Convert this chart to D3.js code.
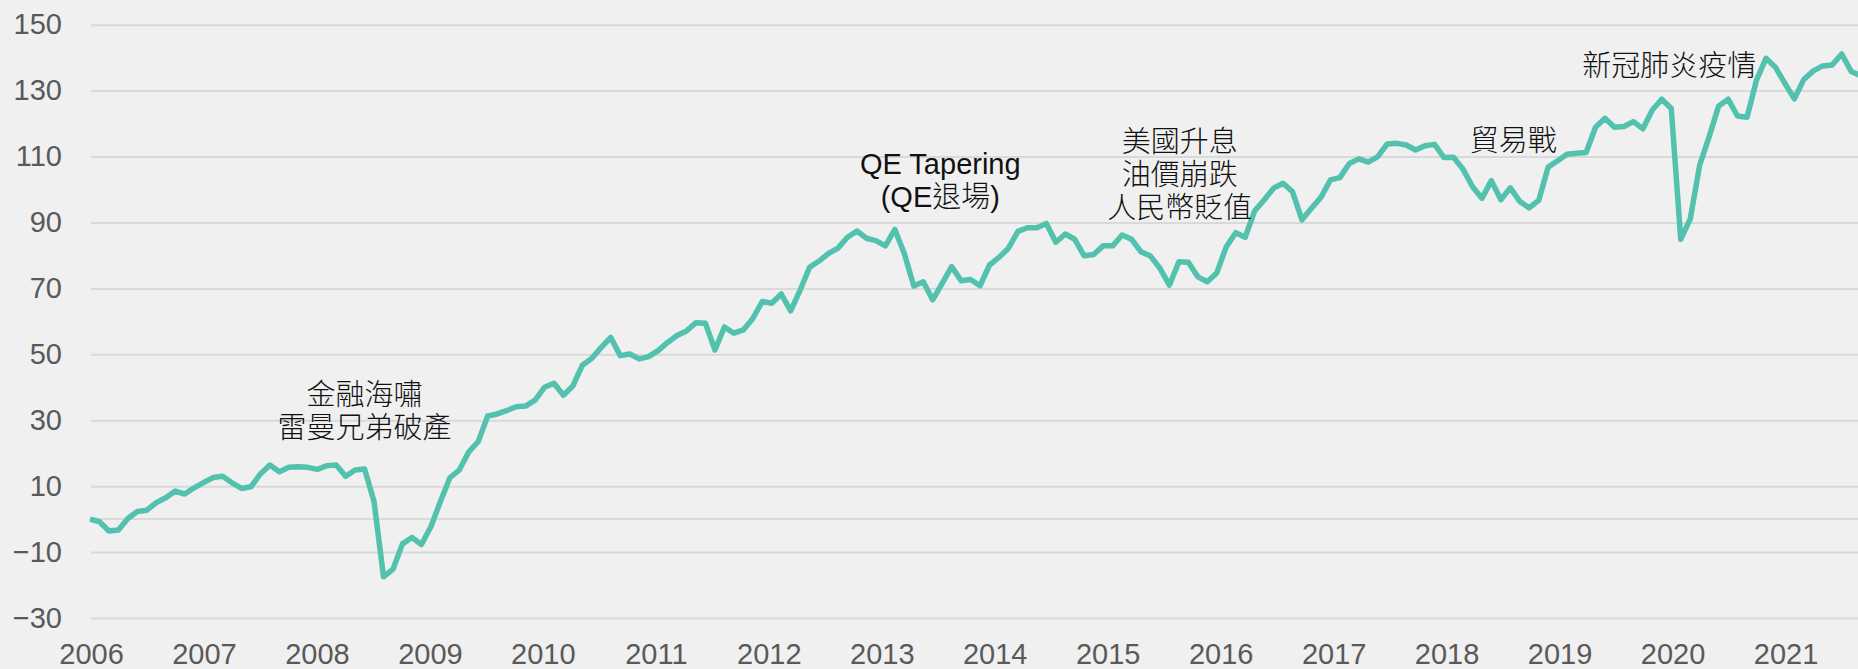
<!DOCTYPE html>
<html>
<head>
<meta charset="utf-8">
<script src="https://cdn.jsdelivr.net/npm/d3@7"></script>
<style>
  html, body { margin: 0; padding: 0; background: #f0f0f0; }
  svg { display: block; }
</style>
</head>
<body>
<div id="chart"></div>
<script>
// monthly index values, Jan 2006 = 0
const values = [
  0, -0.8, -3.6, -3.3, 0.2, 2.3, 2.7, 5.0, 6.5, 8.5, 7.6, 9.5,
  11.1, 12.6, 13.0, 11.0, 9.3, 9.8, 13.7, 16.4, 14.4, 15.7, 15.9, 15.7,
  15.1, 16.2, 16.4, 13.0, 14.9, 15.2, 5.3, -17.5, -15.2, -7.5, -5.6, -7.7,
  -2.3, 5.3, 12.5, 14.9, 20.4, 23.5, 31.3, 31.9, 32.9, 34.1, 34.3, 36.1,
  40.0, 41.2, 37.6, 40.4, 46.7, 48.8, 52.1, 55.1, 49.6, 50.1, 48.6, 49.3,
  51.1, 53.6, 55.7, 57.1, 59.6, 59.4, 51.3, 58.3, 56.4, 57.4, 60.9, 66.0,
  65.5, 68.3, 63.2, 69.5, 76.4, 78.3, 80.6, 82.2, 85.5, 87.4, 85.2, 84.5,
  82.9, 87.9, 80.6, 70.7, 72.0, 66.5, 71.5, 76.6, 72.3, 72.7, 70.8, 77.1,
  79.4, 82.2, 87.3, 88.4, 88.4, 89.7, 84.0, 86.5, 84.9, 79.9, 80.3, 82.9,
  82.9, 86.2, 84.9, 81.1, 79.8, 76.1, 71.0, 78.1, 77.9, 73.5, 72.0, 74.7,
  82.6, 86.9, 85.5, 93.5, 96.8, 100.4, 101.9, 99.3, 90.8, 94.3, 97.6, 102.9,
  103.6, 107.9, 109.3, 108.3, 110.0, 113.8, 114.0, 113.5, 112.0, 113.3, 113.7, 109.7,
  109.8, 106.2, 100.9, 97.3, 102.7, 96.9, 100.5, 96.4, 94.4, 96.7, 106.8, 108.7,
  110.7, 111.0, 111.2, 118.9, 121.6, 118.9, 119.1, 120.6, 118.4, 124.1, 127.4, 124.6,
  84.9, 91.0, 107.4, 116.0, 125.3, 127.4, 122.3, 121.9, 133.2, 139.8, 137.1, 132.2,
  127.5, 133.4, 136.0, 137.5, 137.8, 141.1, 135.8, 134.5
]

const years = d3.range(2006, 2022)
const yTicks = d3.range(-30, 151, 20)

// event notes, anchored at (month index, value) of first line baseline
const notes = [
  { lines: ['金融海嘯', '雷曼兄弟破產'], idx: 29, val: 34.6 },
  { lines: ['QE Tapering', '(QE退場)'], idx: 89.8, val: 104.7 },
  { lines: ['美國升息', '油價崩跌', '人民幣貶值'], idx: 115.1, val: 111.4 },
  { lines: ['貿易戰'], idx: 150.3, val: 111.7 },
  { lines: ['新冠肺炎疫情'], idx: 166.8, val: 134.4 },
]

const W = 1858, H = 669
const margin = { top: 24.7, right: 0, bottom: 51, left: 91 }
const lineColor = '#52c1ad'
const font = '"Liberation Sans", Arial, "Noto Sans CJK TC", sans-serif'

const svg = d3.select('#chart')
  .append('svg')
  .attr('width', W)
  .attr('height', H)
  .style('background', '#f0f0f0')

const y = d3.scaleLinear()
  .domain([-30, 150])
  .range([H - margin.bottom, margin.top])

const x = d3.scaleLinear()
  .domain([0, 185])
  .range([90, 1841.7])

const xYear = d3.scaleLinear()
  .domain([2006, 2021])
  .range([91, 1785.5])

// grid + tick labels
svg.append('g')
  .attr('transform', `translate(${margin.left},0)`)
  .call(d3.axisLeft(y).tickValues(yTicks).tickSize(-(W - margin.left)).tickPadding(29))
  .call(g => g.select('.domain').remove())
  .call(g => g.selectAll('.tick line').attr('stroke', '#d9d9d9').attr('stroke-width', 2))
  .call(g => g.selectAll('.tick text')
    .attr('fill', '#595959')
    .style('font-family', font)
    .style('font-size', '29px'))

// zero line
svg.append('line')
  .attr('x1', margin.left)
  .attr('x2', W)
  .attr('y1', y(0))
  .attr('y2', y(0))
  .attr('stroke', '#d9d9d9')
  .attr('stroke-width', 2)

svg.append('g')
  .attr('transform', `translate(0,${H - margin.bottom})`)
  .call(d3.axisBottom(xYear).tickValues(years).tickFormat(d3.format('d')).tickSize(0).tickPadding(25))
  .call(g => g.select('.domain').remove())
  .call(g => g.selectAll('.tick text')
    .attr('fill', '#595959')
    .style('font-family', font)
    .style('font-size', '29px'))

const line = d3.line()
  .x((d, i) => x(i))
  .y(d => y(d))

svg.append('path')
  .datum(values)
  .attr('d', line)
  .attr('fill', 'none')
  .attr('stroke', lineColor)
  .attr('stroke-width', 5.5)
  .attr('stroke-linejoin', 'round')

const noteG = svg.append('g')
  .style('font-family', font)
  .style('font-size', '29px')
  .style('font-weight', 300)
  .attr('fill', '#111')
  .attr('text-anchor', 'middle')

notes.forEach(n => {
  const t = noteG.append('text')
    .attr('x', x(n.idx))
    .attr('y', y(n.val))
  n.lines.forEach((l, i) => {
    t.append('tspan')
      .attr('x', x(n.idx))
      .attr('dy', i === 0 ? 0 : 33)
      .text(l)
  })
})
</script>
</body>
</html>
